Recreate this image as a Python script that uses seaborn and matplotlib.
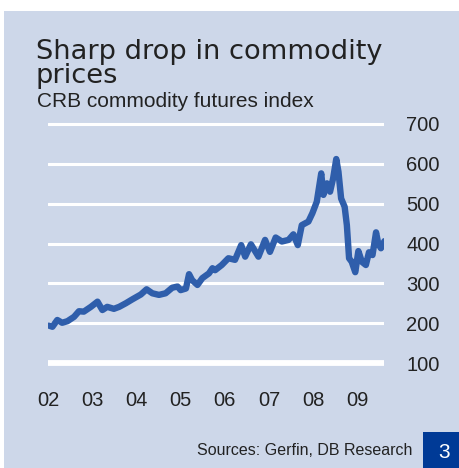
import matplotlib
matplotlib.use("Agg")
import matplotlib.pyplot as plt
from matplotlib.patches import Rectangle
import seaborn as sns
import pandas as pd

# ---- data ----
years = [2002.02, 2002.10, 2002.21, 2002.32, 2002.44, 2002.59, 2002.70, 2002.81, 2002.97,
         2003.12, 2003.23, 2003.34, 2003.49, 2003.61, 2003.76, 2003.91, 2004.10, 2004.23,
         2004.36, 2004.51, 2004.66, 2004.81, 2004.93, 2005.00, 2005.12, 2005.19, 2005.26,
         2005.38, 2005.49, 2005.64, 2005.72, 2005.78, 2005.93, 2006.08, 2006.23, 2006.37,
         2006.46, 2006.59, 2006.76, 2006.91, 2007.02, 2007.15, 2007.29, 2007.44, 2007.55,
         2007.65, 2007.74, 2007.89, 2007.98, 2008.08, 2008.18, 2008.23, 2008.31, 2008.38,
         2008.45, 2008.52, 2008.57, 2008.63, 2008.71, 2008.76, 2008.81, 2008.87, 2008.95,
         2009.02, 2009.10, 2009.19, 2009.26, 2009.34, 2009.42, 2009.47, 2009.53, 2009.61]
crb = [194, 191, 208, 201, 205, 216, 230, 229, 241,
       254, 233, 241, 236, 241, 250, 260, 272, 285,
       275, 271, 275, 289, 292, 283, 287, 323, 308,
       296, 313, 325, 338, 333, 346, 363, 359, 396,
       367, 398, 367, 409, 379, 415, 405, 409, 423,
       396, 446, 455, 476, 505, 576, 522, 551, 530,
       564, 612, 580, 513, 492, 446, 363, 354, 328,
       381, 354, 346, 378, 371, 428, 400, 388, 406]

y_ticks = [100, 200, 300, 400, 500, 600, 700]
x_ticks = [2002, 2003, 2004, 2005, 2006, 2007, 2008, 2009]
x_labels = ["02", "03", "04", "05", "06", "07", "08", "09"]

title = "Sharp drop in commodity\nprices"
subtitle = "CRB commodity futures index"
source = "Sources: Gerfin, DB Research"
page_no = "3"

# ---- style ----
PANEL = "#cdd7e9"
LINE = "#2f5eab"
BOX = "#003a96"
TEXT = "#222222"

df = pd.DataFrame({"year": years, "crb": crb})

sns.set_style("white")
plt.rcParams["font.family"] = ["Liberation Sans", "DejaVu Sans"]

W, H = 460, 468
fig = plt.figure(figsize=(W / 100, H / 100), dpi=100)
fig.patch.set_facecolor("white")
fig.add_artist(Rectangle((4 / W, 0), 1 - 4 / W, 1 - 11 / H, transform=fig.transFigure,
                         facecolor=PANEL, edgecolor="none", zorder=0))

ax_left, ax_right = 48, 384
ax_top, ax_bot = 120, 367
ax = fig.add_axes([ax_left / W, 1 - ax_bot / H, (ax_right - ax_left) / W, (ax_bot - ax_top) / H])
ax.set_facecolor("none")

for v in y_ticks:
    ax.axhline(v, color="white", lw=4.2 if v == y_ticks[0] else 2.2, zorder=1)

sns.lineplot(data=df, x="year", y="crb", ax=ax, color=LINE, lw=4.6, zorder=3,
             solid_joinstyle="round", solid_capstyle="round")

ax.set_xlim(2002, 2009.6)
ax.set_ylim(90, 710)
ax.yaxis.tick_right()
ax.set_yticks(y_ticks)
ax.set_yticklabels([str(v) for v in y_ticks])
ax.set_xticks(x_ticks)
ax.set_xticklabels(x_labels)
ax.tick_params(axis="y", length=0, pad=16, labelsize=14.5, labelcolor=TEXT)
ax.tick_params(axis="x", length=0, pad=17, labelsize=14.5, labelcolor=TEXT)
ax.set_xlabel("")
ax.set_ylabel("")
for s in ax.spines.values():
    s.set_visible(False)

fig.text(36 / W, 1 - 39 / H, title, family="DejaVu Sans", fontsize=19.6, color=TEXT,
         ha="left", va="top", linespacing=0.88)
fig.text(37 / W, 1 - 107 / H, subtitle, fontsize=15, color=TEXT, ha="left", va="baseline")
fig.text(412 / W, 1 - 455 / H, source, fontsize=11.5, color=TEXT, ha="right", va="baseline")

fig.add_artist(Rectangle((423 / W, 0), 1 - 423 / W, 36 / H, transform=fig.transFigure,
                         facecolor=BOX, edgecolor="none", zorder=2))
fig.text(444 / W, 1 - 452 / H, page_no, fontsize=15, color="white", ha="center", va="center",
         zorder=3)

fig.savefig("out.png", dpi=100, facecolor=fig.get_facecolor())
